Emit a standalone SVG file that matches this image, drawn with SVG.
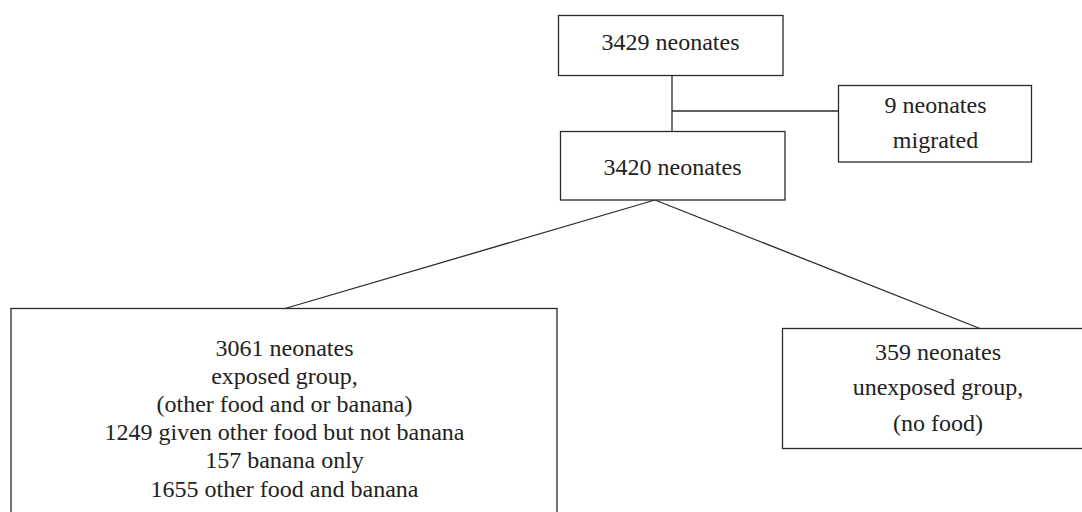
<svg xmlns="http://www.w3.org/2000/svg" width="1082" height="512" viewBox="0 0 1082 512">
<style>
.box{fill:#fff;stroke:#2a2a2a;stroke-width:1.3}
.t{font-family:"Liberation Serif","Times New Roman",serif;font-size:24px;fill:#222;text-anchor:middle}
.c{fill:none;stroke:#2a2a2a;stroke-width:1.3}
</style>
<rect width="1082" height="512" fill="#fff"/>
<g id="connectors">
<line class="c" x1="672" y1="75.5" x2="672" y2="131.5"/>
<line class="c" x1="672" y1="111" x2="838.5" y2="111"/>
<line class="c" x1="655" y1="200" x2="285" y2="308.5"/>
<line class="c" x1="655" y1="200" x2="980" y2="328.5"/>
</g>
<g id="n1">
<rect class="box" x="558.5" y="15.5" width="224.5" height="60"/>
<text class="t" x="670.5" y="50">3429 neonates</text>
</g>
<g id="n2">
<rect class="box" x="560.5" y="131.5" width="224.5" height="68.5"/>
<text class="t" x="672.5" y="175">3420 neonates</text>
</g>
<g id="n3">
<rect class="box" x="838.5" y="85.5" width="193" height="76.5"/>
<text class="t" x="935.5" y="112.5">9 neonates</text>
<text class="t" x="935.5" y="148">migrated</text>
</g>
<g id="n4">
<rect class="box" x="11" y="308.5" width="546" height="230"/>
<text class="t" x="284.5" y="355.5">3061 neonates</text>
<text class="t" x="284.5" y="383.7">exposed group,</text>
<text class="t" x="284.5" y="411.9">(other food and or banana)</text>
<text class="t" x="284.5" y="440.1">1249 given other food but not banana</text>
<text class="t" x="284.5" y="468.3">157 banana only</text>
<text class="t" x="284.5" y="496.5">1655 other food and banana</text>
</g>
<g id="n5">
<rect class="box" x="782.5" y="328.5" width="312" height="120"/>
<text class="t" x="938" y="360">359 neonates</text>
<text class="t" x="938" y="395">unexposed group,</text>
<text class="t" x="938" y="430.5">(no food)</text>
</g>
</svg>
